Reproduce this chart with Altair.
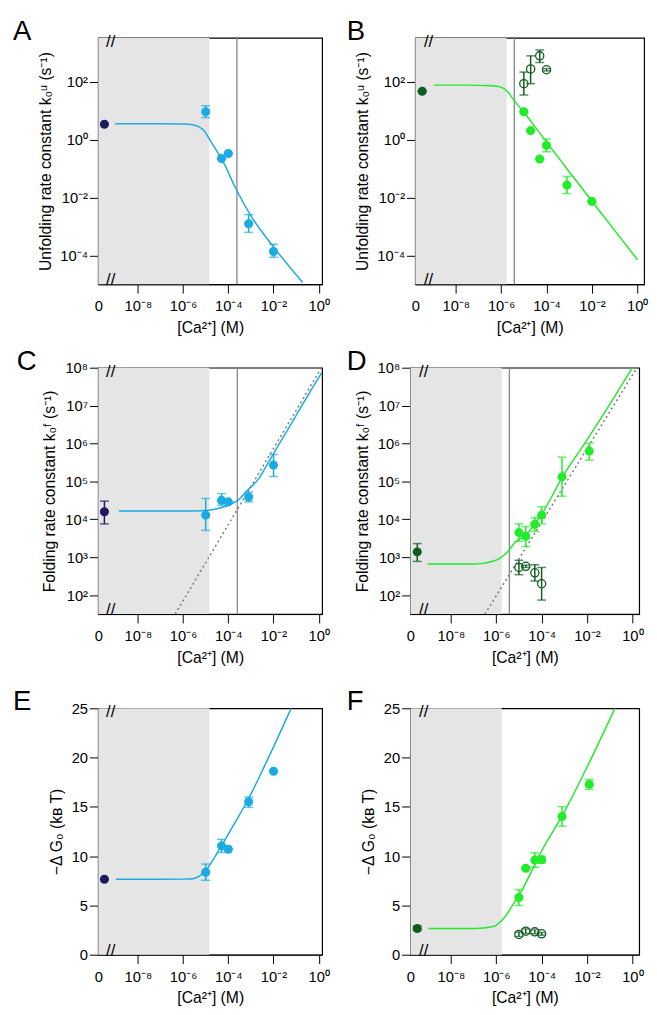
import altair as alt
import pandas as pd

FONT = "Liberation Sans"
H = 251
ZERO_POS = -9.48          # axis position used for [Ca2+] = 0
XTITLE = "[Ca²⁺] (M)"

BLUE = "#1AABE2"
NAVY = "#1C1B5E"
GREEN = "#22EC2A"
DKGREEN = "#0E5C1E"
SHADE = "#E5E5E5"
VLINE = "#8C8C8C"

# ---------------- Panel A : unfolding rate, blue (log10 [Ca], log10 k) ----
A_logc = [-5.0, -4.3, -4.0, -3.1, -2.0]
A_logk = [0.97, -0.64, -0.47, -2.89, -3.85]
A_lo = [0.77, -0.64, -0.47, -3.19, -4.05]
A_hi = [1.18, -0.64, -0.47, -2.58, -3.60]
A_zero = [0.54]
A_fit_logc = [-9.0, -7.0, -6.0, -5.57, -5.13, -4.84, -4.48, -4.19, -3.68, -2.96, -2.01, -0.71]
A_fit_logk = [0.56, 0.56, 0.55, 0.52, 0.37, 0.03, -0.42, -0.81, -1.66, -2.67, -3.68, -4.92]
A_shade_end = -4.84
A_vline = -3.62

# ---------------- Panel B : unfolding rate, green -------------------------
B_logc = [-5.0, -4.7, -4.3, -4.0, -3.1, -2.0]
B_logk = [0.97, 0.32, -0.66, -0.19, -1.56, -2.12]
B_lo = [0.97, 0.32, -0.66, -0.41, -1.85, -2.12]
B_hi = [0.97, 0.32, -0.66, 0.03, -1.26, -2.12]
B_open_logc = [-5.0, -4.7, -4.3, -4.0]
B_open_logk = [1.94, 2.45, 2.90, 2.42]
B_open_lo = [1.55, 1.94, 2.67, 2.38]
B_open_hi = [2.34, 2.90, 3.10, 2.46]
B_zero = [1.68]
B_fit_logc = [-8.97, -7.5, -6.4, -6.0, -5.7, -5.45, -5.2, -5.01, -4.5, -3.0, -1.0, 0.01]
B_fit_logk = [1.89, 1.89, 1.87, 1.82, 1.65, 1.38, 1.14, 0.96, 0.44, -1.10, -3.12, -4.14]
B_shade_end = -5.76
B_vline = -5.42

# ---------------- Panel C : folding rate, blue ----------------------------
C_logc = [-5.0, -4.3, -4.0, -3.1, -2.0]
C_logk = [4.11, 4.50, 4.46, 4.59, 5.43]
C_lo = [3.71, 4.37, 4.46, 4.46, 5.13]
C_hi = [4.55, 4.68, 4.46, 4.72, 5.71]
C_zero = [4.20]
C_zero_lo = [3.88]
C_zero_hi = [4.48]
C_fit_logc = [-8.84, -7.0, -5.5, -4.99, -4.5, -4.0, -3.58, -3.16, -2.67, -2.11, -1.12, 0.0, 0.15]
C_fit_logk = [4.22, 4.22, 4.22, 4.23, 4.28, 4.37, 4.50, 4.76, 5.06, 5.62, 6.62, 7.74, 7.88]
C_dot_logc = [-6.35, 0.12]
C_dot_logk = [1.5, 8.0]
C_shade_end = -4.84
C_vline = -3.6

# ---------------- Panel D : folding rate, green ---------------------------
D_logc = [-5.0, -4.7, -4.3, -4.0, -3.1, -1.9]
D_logk = [3.65, 3.55, 3.87, 4.11, 5.12, 5.80]
D_lo = [3.42, 3.28, 3.68, 3.88, 4.61, 5.56]
D_hi = [3.88, 3.81, 4.04, 4.33, 5.64, 6.01]
D_open_logc = [-5.0, -4.7, -4.3, -4.0]
D_open_logk = [2.73, 2.76, 2.59, 2.30]
D_open_lo = [2.54, 2.73, 2.37, 1.87]
D_open_hi = [2.92, 2.79, 2.80, 2.73]
D_zero = [3.14]
D_zero_lo = [2.89]
D_zero_hi = [3.36]
D_fit_logc = [-9.02, -6.96, -6.11, -5.54, -5.12, -4.69, -3.98, -3.05, -1.99, 0.0, 0.15]
D_fit_logk = [2.82, 2.82, 2.90, 3.12, 3.42, 3.60, 4.15, 5.15, 6.10, 8.0, 8.15]
D_dot_logc = [-6.5, 0.15]
D_dot_logk = [1.5, 7.95]
D_shade_end = -5.76
D_vline = -5.42

# ---------------- Panel E : -dG0, blue (kBT) ------------------------------
E_logc = [-5.0, -4.3, -4.0, -3.1, -2.0]
E_dg = [8.37, 11.04, 10.70, 15.52, 18.62]
E_lo = [7.55, 10.37, 10.70, 14.95, 18.62]
E_hi = [9.20, 11.70, 10.70, 16.00, 18.62]
E_zero = [7.65]
E_fit_logc = [-8.97, -7.0, -6.0, -5.57, -5.3, -4.99, -4.7, -4.26, -3.68, -3.1, -2.16, -1.22]
E_fit_dg = [7.65, 7.65, 7.67, 7.71, 7.95, 8.54, 9.54, 11.2, 13.5, 15.85, 20.3, 25.0]
E_shade_end = -4.84

# ---------------- Panel F : -dG0, green -----------------------------------
F_logc = [-5.0, -4.7, -4.3, -4.0, -3.1, -1.9]
F_dg = [5.81, 8.77, 9.60, 9.64, 14.03, 17.28]
F_lo = [4.99, 8.77, 8.87, 9.30, 13.03, 16.78]
F_hi = [6.61, 8.77, 10.34, 10.00, 15.02, 17.78]
F_open_logc = [-5.0, -4.7, -4.3, -4.0]
F_open_dg = [2.06, 2.39, 2.32, 2.12]
F_open_lo = [1.85, 2.15, 2.12, 1.98]
F_open_hi = [2.30, 2.62, 2.52, 2.26]
F_zero = [2.66]
F_zero_lo = [2.45]
F_zero_hi = [2.90]
F_fit_logc = [-8.99, -6.94, -6.09, -5.66, -5.23, -4.95, -3.96, -3.03, -1.97, -0.77]
F_fit_dg = [2.66, 2.66, 2.89, 3.72, 5.21, 6.21, 10.7, 14.36, 19.17, 25.0]
F_shade_end = -5.76

# ---------------- axis text ------------------------------------------------
SUP = str.maketrans("-0123456789", "⁻⁰¹²³⁴⁵⁶⁷⁸⁹")


def pow10(e):
    return "10" + str(e).translate(SUP)


def chain(key, pairs, default="''"):
    expr = default
    for v, lab in reversed(pairs):
        expr = f"({key} == {v} ? '{lab}' : {expr})"
    return expr


X_LABELS = "datum.value < -9 ? '0' : " + chain("round(datum.value)", [(e, pow10(e)) for e in [-8, -6, -4, -2, 0]])


def log_label_expr(exps):
    return chain("round(log(datum.value) / LN10)", [(e, pow10(e)) for e in exps])


def tolin(a):
    return [10.0 ** v for v in a]


def panel(letter, dx, color, zcolor, logy, ydom, yvals, ytitle, shade_end,
          pts, zero, fit, vline=None, dotted=None, opn=None, xdom=(-9.75, 0.15), width=228):
    conv = tolin if logy else list
    if logy:
        yscale = alt.Scale(type="log", domain=[10.0 ** ydom[0], 10.0 ** ydom[1]], nice=False)
        yaxis = alt.Axis(values=[10.0 ** e for e in yvals], labelExpr=log_label_expr(yvals))
    else:
        yscale = alt.Scale(domain=ydom, nice=False, zero=False)
        yaxis = alt.Axis(values=yvals)
    xscale = alt.Scale(domain=list(xdom), nice=False, zero=False)
    xaxis = alt.Axis(values=[xdom[0], -8, -6, -4, -2, 0], labelExpr=X_LABELS, labelFlush=False,
                     tickOpacity={"condition": {"test": "datum.value < -9", "value": 0}, "value": 1})

    def xe(f):
        return alt.X(f, type="quantitative", scale=xscale, axis=xaxis, title=XTITLE)

    def ye(f):
        return alt.Y(f, type="quantitative", scale=yscale, axis=yaxis, title=ytitle)

    layers = []
    sh = pd.DataFrame({"x0": [xdom[0]], "x1": [shade_end]})
    layers.append(alt.Chart(sh).mark_rect(color=SHADE).encode(
        x=xe("x0"), x2="x1", y=alt.value(0), y2=alt.value(H)))
    if vline is not None:
        layers.append(alt.Chart(pd.DataFrame({"x": [vline]})).mark_rule(
            color=VLINE, strokeWidth=1.4).encode(x=xe("x")))
    if dotted is not None:
        dd = pd.DataFrame({"x": dotted[0], "y": conv(dotted[1])})
        layers.append(alt.Chart(dd).mark_line(color="#7A7A7A", strokeWidth=1.5,
                                              strokeDash=[2, 3], clip=True).encode(x=xe("x"), y=ye("y")))
    fd = pd.DataFrame({"x": fit[0], "y": conv(fit[1])})
    layers.append(alt.Chart(fd).mark_line(color=color, strokeWidth=1.5, interpolate="monotone",
                                          clip=True).encode(x=xe("x"), y=ye("y")))

    def errs(df, c):
        return [alt.Chart(df).mark_rule(color=c, strokeWidth=1.5).encode(x=xe("x"), y=ye("lo"), y2="hi"),
                alt.Chart(df).mark_tick(color=c, orient="horizontal", size=9, thickness=1.5).encode(x=xe("x"), y=ye("lo")),
                alt.Chart(df).mark_tick(color=c, orient="horizontal", size=9, thickness=1.5).encode(x=xe("x"), y=ye("hi"))]

    if opn is not None:
        od = pd.DataFrame({"x": opn[0], "y": conv(opn[1]), "lo": conv(opn[2]), "hi": conv(opn[3])})
        layers += errs(od, DKGREEN)
        layers.append(alt.Chart(od).mark_point(filled=False, color=DKGREEN, size=70, strokeWidth=1.3,
                                               opacity=1).encode(x=xe("x"), y=ye("y")))
    pdf = pd.DataFrame({"x": pts[0], "y": conv(pts[1]), "lo": conv(pts[2]), "hi": conv(pts[3])})
    layers += errs(pdf, color)
    layers.append(alt.Chart(pdf).mark_point(filled=True, color=color, size=85, opacity=1).encode(
        x=xe("x"), y=ye("y")))
    zdf = pd.DataFrame({"x": [ZERO_POS], "y": conv(zero[0]), "lo": conv(zero[1]), "hi": conv(zero[2])})
    layers += errs(zdf, zcolor)
    layers.append(alt.Chart(zdf).mark_point(filled=True, color=zcolor, size=85, opacity=1).encode(
        x=xe("x"), y=ye("y")))
    bk = pd.DataFrame({"x": [-9.2]})
    layers.append(alt.Chart(bk).mark_text(text="//", fontSize=17, font=FONT, baseline="middle",
                                          color="black").encode(x=xe("x"), y=alt.value(4)))
    layers.append(alt.Chart(bk).mark_text(text="//", fontSize=17, font=FONT, baseline="middle",
                                          color="black").encode(x=xe("x"), y=alt.value(H - 4)))
    # panel letter
    layers.append(alt.Chart(pd.DataFrame({"t": [letter]})).mark_text(
        fontSize=28, font=FONT, align="left", baseline="alphabetic", color="black").encode(
        text="t:N", x=alt.value(dx), y=alt.value(2)))

    return alt.layer(*layers).properties(width=width, height=H)


KU_T = "Unfolding rate constant k₀ᵘ (s⁻¹)"
KF_T = "Folding rate constant k₀ᶠ (s⁻¹)"
DG_T = "−Δ G₀ (kʙ T)"
R_DOM = (-9.78, 0.3)
R_W = 233

pA = panel("A", -87, BLUE, NAVY, True, [-4.98, 3.52], [-4, -2, 0, 2], KU_T, A_shade_end,
           (A_logc, A_logk, A_lo, A_hi), (A_zero, A_zero, A_zero), (A_fit_logc, A_fit_logk), vline=A_vline)
pB = panel("B", -70, GREEN, DKGREEN, True, [-4.98, 3.52], [-4, -2, 0, 2], KU_T, B_shade_end,
           (B_logc, B_logk, B_lo, B_hi), (B_zero, B_zero, B_zero), (B_fit_logc, B_fit_logk), vline=B_vline,
           opn=(B_open_logc, B_open_logk, B_open_lo, B_open_hi), xdom=R_DOM, width=R_W)
pC = panel("C", -83, BLUE, NAVY, True, [1.5, 8.0], [2, 3, 4, 5, 6, 7, 8], KF_T, C_shade_end,
           (C_logc, C_logk, C_lo, C_hi), (C_zero, C_zero_lo, C_zero_hi), (C_fit_logc, C_fit_logk),
           vline=C_vline, dotted=(C_dot_logc, C_dot_logk))
pD = panel("D", -65, GREEN, DKGREEN, True, [1.5, 8.0], [2, 3, 4, 5, 6, 7, 8], KF_T, D_shade_end,
           (D_logc, D_logk, D_lo, D_hi), (D_zero, D_zero_lo, D_zero_hi), (D_fit_logc, D_fit_logk),
           vline=D_vline, dotted=(D_dot_logc, D_dot_logk), opn=(D_open_logc, D_open_logk, D_open_lo, D_open_hi),
           xdom=R_DOM, width=R_W)
pE = panel("E", -87, BLUE, NAVY, False, [0, 25], [0, 5, 10, 15, 20, 25], DG_T, E_shade_end,
           (E_logc, E_dg, E_lo, E_hi), (E_zero, E_zero, E_zero), (E_fit_logc, E_fit_dg))
pF = panel("F", -65, GREEN, DKGREEN, False, [0, 25], [0, 5, 10, 15, 20, 25], DG_T, F_shade_end,
           (F_logc, F_dg, F_lo, F_hi), (F_zero, F_zero_lo, F_zero_hi), (F_fit_logc, F_fit_dg),
           opn=(F_open_logc, F_open_dg, F_open_lo, F_open_hi), xdom=R_DOM, width=R_W)

chart = alt.vconcat(
    alt.vconcat(
        alt.hconcat(pA, pB, spacing=16),
        alt.hconcat(pC, pD, spacing=16),
        spacing=11,
    ),
    alt.hconcat(pE, pF, spacing=16),
    spacing=22,
).properties(
    padding={"left": 4, "top": 0, "right": 0, "bottom": 0}
).configure_view(
    stroke="black", strokeWidth=1.2
).configure_axis(
    grid=False, labelFont=FONT, titleFont=FONT, labelFontSize=15, titleFontSize=16,
    titleFontWeight="normal", labelColor="black", titleColor="black", tickColor="black",
    domainColor="black", tickSize=9, labelPadding=3
).configure_axisX(
    titlePadding=6, labelPadding=6
).configure_axisY(
    titlePadding=7, domainWidth=2, domainColor="#222", tickSize=9, labelPadding=2
)

chart.save("out.html", embed_options={"renderer": "svg", "actions": False})
